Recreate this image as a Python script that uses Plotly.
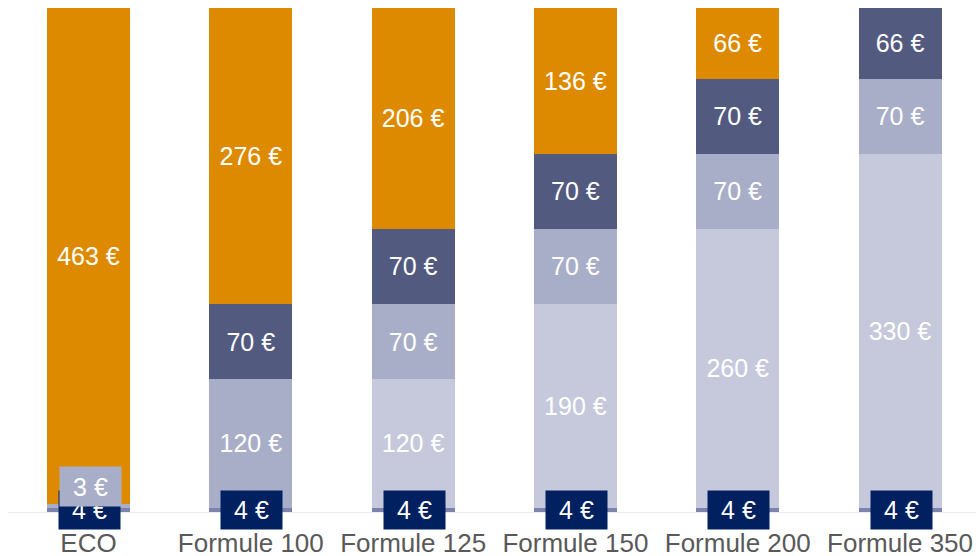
import plotly.graph_objects as go

categories = ["ECO", "Formule 100", "Formule 125", "Formule 150", "Formule 200", "Formule 350"]
base_vals = [4, 4, 4, 4, 4, 4]
light_vals = [0, 0, 120, 190, 260, 330]
mid_vals = [3, 120, 70, 70, 70, 70]
dark_vals = [0, 70, 70, 70, 70, 66]
orange_vals = [463, 276, 206, 136, 66, 0]

series = [
    ("base", base_vals, "#7C84AE"),
    ("light", light_vals, "#C6C9DC"),
    ("mid", mid_vals, "#A9AEC8"),
    ("dark", dark_vals, "#525A80"),
    ("orange", orange_vals, "#DD8A00"),
]

FONT = "Liberation Sans, Arial, sans-serif"
SMALL = 10  # values below this are labelled with a boxed annotation
LABEL_SIZE = 25

fig = go.Figure()
for name, vals, color in series:
    texts = [f"{v} €" if v >= SMALL else "" for v in vals]
    fig.add_trace(go.Bar(
        name=name, x=categories, y=vals, marker=dict(color=color, line=dict(width=0)),
        text=texts, textposition="inside", insidetextanchor="middle", textangle=0,
        textfont=dict(color="white", size=LABEL_SIZE, family=FONT),
        hoverinfo="skip",
    ))

annotations = []
# base 4 € boxes (navy)
for c, v in zip(categories, base_vals):
    annotations.append(dict(
        x=c, y=v / 2, xref="x", yref="y", text=f"{v} €", showarrow=False,
        font=dict(color="white", size=LABEL_SIZE, family=FONT),
        bgcolor="#002060", width=55, height=32, borderpad=3, xshift=1,
        yanchor="middle",
    ))
# small mid values (e.g. 3 €) boxed above the base
for c, b, v in zip(categories, base_vals, mid_vals):
    if 0 < v < SMALL:
        annotations.append(dict(
            x=c, y=b + v, xref="x", yref="y", text=f"{v} €", showarrow=False,
            font=dict(color="white", size=LABEL_SIZE, family=FONT),
            bgcolor="#A9AEC8", width=55, height=33, borderpad=3, xshift=2,
            yanchor="bottom", yshift=-3,
        ))

fig.update_layout(
    barmode="stack",
    bargap=0.489,
    width=976, height=556,
    margin=dict(l=8, r=0, t=8, b=44, autoexpand=False),
    plot_bgcolor="white", paper_bgcolor="white",
    showlegend=False,
    annotations=annotations,
    font=dict(family=FONT),
    uniformtext=dict(minsize=8, mode="show"),
)
fig.update_xaxes(
    range=[-0.496, 5.468], showline=True, linecolor="#EBEBEB", linewidth=1,
    showgrid=False, ticks="", automargin=False, ticklabelstandoff=8,
    tickfont=dict(size=26, color="#595959", family=FONT),
)
fig.update_yaxes(range=[0, 470], visible=False, showgrid=False, zeroline=False,
                 automargin=False)

fig.write_html(
    "out.html",
    config={"displayModeBar": False},
    post_script="document.body.style.margin='0px'; document.body.style.overflow='hidden';",
)
